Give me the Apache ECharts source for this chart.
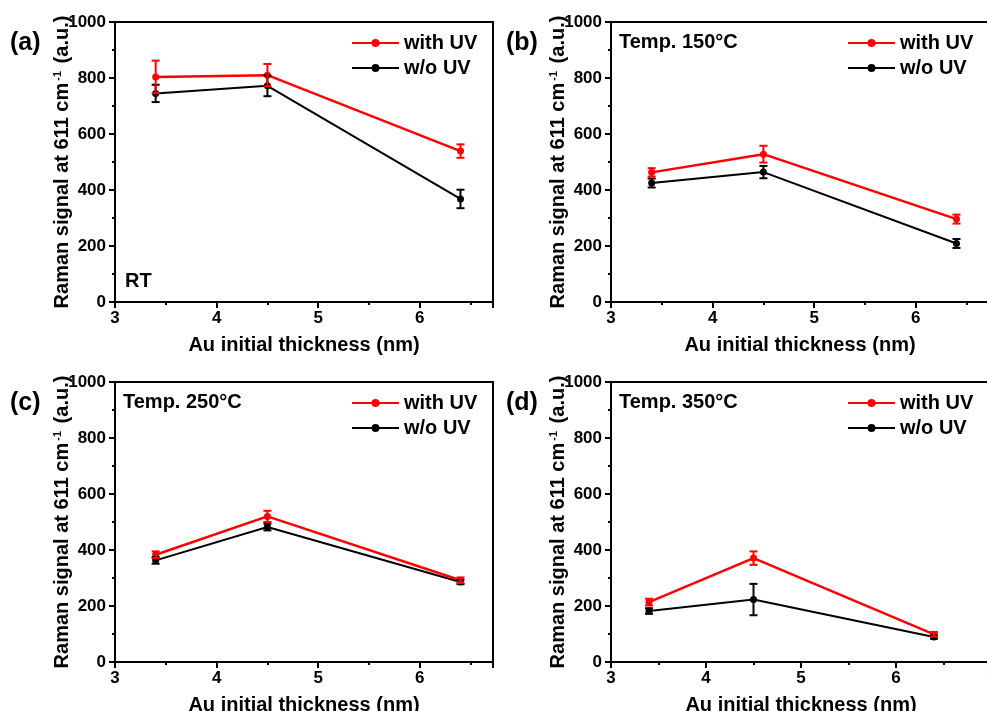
<!DOCTYPE html>
<html>
<head>
<meta charset="utf-8">
<script src="https://cdn.jsdelivr.net/npm/echarts@6/dist/echarts.min.js"></script>
<style>
  html, body { margin: 0; padding: 0; background: #fff; }
  #main { width: 987px; height: 711px; }
</style>
</head>
<body>
<div id="main"></div>
<script>
// Au initial thickness (nm)
const thickness = [3.4, 4.5, 6.4];

// (a) RT
const withUV_RT = [804, 810, 539];
const withUV_RT_err = [58, 40, 24];
const woUV_RT = [745, 772, 368];
const woUV_RT_err = [31, 37, 33];

// (b) 150 C
const withUV_150 = [463, 528, 296];
const withUV_150_err = [15, 30, 16];
const woUV_150 = [425, 464, 209];
const woUV_150_err = [16, 22, 16];

// (c) 250 C
const withUV_250 = [383, 520, 292];
const withUV_250_err = [12, 20, 10];
const woUV_250 = [363, 482, 286];
const woUV_250_err = [12, 12, 8];

// (d) 350 C
const withUV_350 = [214, 371, 99];
const withUV_350_err = [12, 24, 8];
const woUV_350 = [182, 223, 89];
const woUV_350_err = [10, 56, 6];

const yTicks = [0, 200, 400, 600, 800, 1000];
const xTicks = [3, 4, 5, 6, 7];

const panels = [
  { tag: '(a)', note: 'RT', w: withUV_RT, we: withUV_RT_err, o: woUV_RT, oe: woUV_RT_err, xMax: 6.72 },
  { tag: '(b)', note: 'Temp. 150°C', w: withUV_150, we: withUV_150_err, o: woUV_150, oe: woUV_150_err, xMax: 6.72 },
  { tag: '(c)', note: 'Temp. 250°C', w: withUV_250, we: withUV_250_err, o: woUV_250, oe: woUV_250_err, xMax: 6.72 },
  { tag: '(d)', note: 'Temp. 350°C', w: withUV_350, we: withUV_350_err, o: woUV_350, oe: woUV_350_err, xMax: 7 }
];

// layout of the 4 boxes
const boxes = [
  { left: 115, top: 22, width: 378 },
  { left: 611, top: 22, width: 378 },
  { left: 115, top: 382, width: 378 },
  { left: 611, top: 382, width: 380 }
];
const H = 280;
const FONT = 'Liberation Sans, Arial, sans-serif';

function errorBars (color) {
  return function (params, api) {
    const x = api.value(0);
    const top = api.coord([x, api.value(2)]);
    const bot = api.coord([x, api.value(1)]);
    const c = 4;
    const st = { stroke: color, lineWidth: 2 };
    return {
      type: 'group',
      children: [
        { type: 'line', shape: { x1: top[0], y1: top[1], x2: bot[0], y2: bot[1] }, style: st },
        { type: 'line', shape: { x1: top[0] - c, y1: top[1], x2: top[0] + c, y2: top[1] }, style: st },
        { type: 'line', shape: { x1: bot[0] - c, y1: bot[1], x2: bot[0] + c, y2: bot[1] }, style: st }
      ]
    };
  };
}

const grid = [], xAxis = [], yAxis = [], series = [], legend = [], graphic = [];

panels.forEach((p, i) => {
  const b = boxes[i];
  grid.push({
    left: b.left, top: b.top, width: b.width, height: H,
    containLabel: false, outerBoundsMode: 'none',
    show: true, borderColor: '#000', borderWidth: 2, backgroundColor: 'transparent'
  });
  xAxis.push({
    type: 'value', gridIndex: i, min: 3, max: p.xMax, interval: 1,
    name: 'Au initial thickness (nm)', nameLocation: 'middle', nameGap: 33, nameMoveOverlap: false,
    nameTextStyle: { fontFamily: FONT, fontWeight: 'bold', fontSize: 20, color: '#000' },
    axisLine: { lineStyle: { color: '#000', width: 2 } },
    axisTick: { show: true, inside: false, length: 6, lineStyle: { color: '#000', width: 2 } },
    minorTick: { show: true, splitNumber: 2, length: 3, lineStyle: { color: '#000', width: 2 } },
    axisLabel: {
      margin: 8, fontFamily: FONT, fontWeight: 'bold', fontSize: 17, color: '#000',
      formatter: v => xTicks.includes(v) ? String(v) : ''
    },
    splitLine: { show: false }
  });
  yAxis.push({
    type: 'value', gridIndex: i, min: 0, max: 1000, interval: 200,
    name: 'Raman signal at 611 cm{sup|-1} (a.u.)', nameLocation: 'middle', nameGap: 43, nameMoveOverlap: false,
    nameTextStyle: {
      fontFamily: FONT, fontWeight: 'bold', fontSize: 20, color: '#000',
      rich: { sup: { fontFamily: FONT, fontWeight: 'bold', fontSize: 11, verticalAlign: 'top', color: '#000', padding: [0, 2, 8, 2] } }
    },
    axisLine: { lineStyle: { color: '#000', width: 2 } },
    axisTick: { show: true, inside: false, length: 6, lineStyle: { color: '#000', width: 2 } },
    minorTick: { show: true, splitNumber: 2, length: 3, lineStyle: { color: '#000', width: 2 } },
    axisLabel: {
      margin: 9, fontFamily: FONT, fontWeight: 'bold', fontSize: 17, color: '#000',
      formatter: v => yTicks.includes(v) ? String(v) : ''
    },
    splitLine: { show: false }
  });

  const lineSeries = (name, vals, color, width) => ({
    name, type: 'line', xAxisIndex: i, yAxisIndex: i,
    data: thickness.map((x, k) => [x, vals[k]]),
    symbol: 'circle', symbolSize: 7,
    lineStyle: { color, width },
    itemStyle: { color },
    z: 3
  });
  const errSeries = (vals, errs, color) => ({
    name: 'err', type: 'custom', xAxisIndex: i, yAxisIndex: i,
    data: thickness.map((x, k) => [x, vals[k] - errs[k], vals[k] + errs[k]]),
    encode: { x: 0, y: [1, 2] },
    renderItem: errorBars(color),
    z: 4
  });
  series.push(errSeries(p.o, p.oe, '#000'));
  series.push(lineSeries('w/o UV', p.o, '#000', 2));
  series.push(errSeries(p.w, p.we, '#ff0000'));
  series.push(lineSeries('with UV', p.w, '#ff0000', 2.5));

  legend.push({
    data: ['with UV', 'w/o UV'], orient: 'vertical',
    left: b.left + 231, top: b.top + 6,
    itemWidth: 47, itemHeight: 10, itemGap: 5,
    selectedMode: false,
    textStyle: { fontFamily: FONT, fontWeight: 'bold', fontSize: 20, color: '#000', lineHeight: 20 }
  });

  graphic.push({
    type: 'text', left: b.left - 105, top: b.top + 9,
    style: { text: p.tag, font: 'bold 25px ' + FONT, fill: '#000' }
  });
  if (p.note === 'RT') {
    graphic.push({
      type: 'text', left: b.left + 10, top: b.top + H - 31,
      style: { text: p.note, font: 'bold 20px ' + FONT, fill: '#000' }
    });
  } else {
    graphic.push({
      type: 'text', left: b.left + 8, top: b.top + 10,
      style: { text: p.note, font: 'bold 20px ' + FONT, fill: '#000' }
    });
  }
});

const chart = echarts.init(document.getElementById('main'));
chart.setOption({
  animation: false,
  backgroundColor: '#fff',
  grid, xAxis, yAxis, series, legend, graphic
});
</script>
</body>
</html>
